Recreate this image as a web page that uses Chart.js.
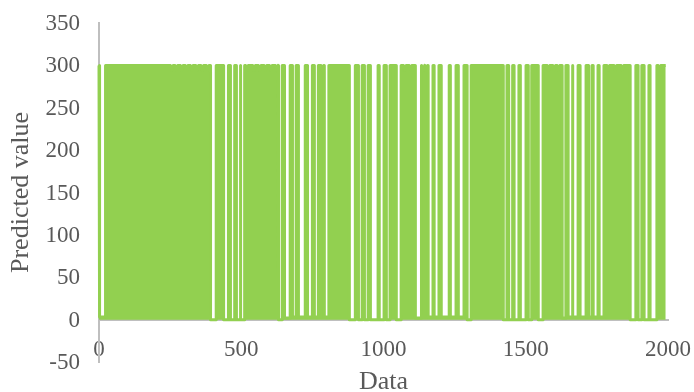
<!DOCTYPE html>
<html>
<head>
<meta charset="utf-8">
<style>
  body { margin: 0; background: #fff; }
  canvas { display: block; }
</style>
<script src="https://cdn.jsdelivr.net/npm/chart.js@4"></script>
</head>
<body>
<canvas id="chart" width="694" height="392"></canvas>
<script>
// Values: the series sits at 300 and drops to a floor inside each gap
const topValue = 300;
const gapStart = [2, 392, 438, 462, 483, 498, 631, 652, 680, 701, 733, 757, 792, 880, 912, 933, 954, 985, 1010, 1045, 1112, 1157, 1178, 1203, 1235, 1263, 1294, 1421, 1440, 1459, 1481, 1509, 1544, 1628, 1649, 1666, 1691, 1721, 1737, 1758, 1867, 1895, 1916, 1937];
const gapEnd = [23, 412, 455, 477, 497, 512, 644, 672, 693, 725, 750, 771, 808, 901, 925, 946, 981, 1002, 1023, 1062, 1132, 1174, 1195, 1231, 1255, 1283, 1308, 1434, 1454, 1476, 1501, 1521, 1561, 1641, 1663, 1684, 1712, 1733, 1754, 1775, 1887, 1908, 1933, 1961];
const gapFloor = [3, 0, 0, 0, 0, 0, 0, 2, 3, 3, 3, 3, 3, 0, 0, 0, 0, 0, 0, 0, 2, 3, 3, 3, 3, 3, 0, 0, 0, 0, 0, 0, 0, 2, 3, 3, 3, 3, 3, 3, 0, 0, 0, 0];
// Small dents along the top edge
const dentX = [256, 272, 291, 308, 326, 345, 363, 382, 520, 545, 565, 585, 604, 625, 785, 925, 1040, 1075, 1095, 1140, 1150, 1210, 1260, 1290, 1445, 1525, 1580, 1600, 1615, 1690, 1790, 1815, 1840, 1920, 1970];
const dentY = [294, 294, 294, 294, 294, 294, 294, 294, 294, 294, 294, 294, 294, 294, 294, 294, 294, 294, 294, 294, 294, 294, 294, 294, 294, 294, 294, 294, 294, 294, 294, 294, 294, 294, 294];
const lastX = [0, 1992];
const xTicks = [0, 500, 1000, 1500, 2000];
const yTicks = [-50, 0, 50, 100, 150, 200, 250, 300, 350];

// Build the point list for the line
const points = [{ x: lastX[0], y: topValue }];
gapStart.forEach((start, i) => {
  points.push({ x: start, y: topValue }, { x: start, y: gapFloor[i] }, { x: gapEnd[i], y: gapFloor[i] }, { x: gapEnd[i], y: topValue });
});
dentX.forEach((x, i) => {
  if (!gapStart.some((start, j) => x > start - 6 && x < gapEnd[j] + 6)) {
    points.push({ x: x - 5, y: topValue }, { x, y: dentY[i] }, { x: x + 5, y: topValue });
  }
});
points.push({ x: lastX[1], y: topValue });
points.sort((a, b) => a.x - b.x);

const grey = '#bfbfbf';
const textColor = '#595959';
const fontFamily = '"Liberation Serif", serif';

new Chart(document.getElementById('chart'), {
  type: 'scatter',
  data: {
    datasets: [{
      data: points,
      showLine: true,
      borderColor: '#92d050',
      backgroundColor: '#92d050',
      borderWidth: 3,
      borderJoinStyle: 'round',
      pointRadius: 0,
      fill: 'origin',
      tension: 0,
      clip: false
    }]
  },
  options: {
    responsive: false,
    animation: false,
    layout: { padding: { top: 23, right: 26, bottom: 30, left: 6 } },
    plugins: { legend: { display: false }, tooltip: { enabled: false } },
    scales: {
      x: {
        type: 'linear',
        position: { y: 0 },
        z: 1,
        min: 0,
        max: 2000,
        afterBuildTicks: axis => { axis.ticks = xTicks.map(value => ({ value })); },
        afterFit: axis => { axis.paddingLeft = 0; axis.paddingRight = 0; },
        grid: { display: false, drawTicks: false },
        border: { color: grey, width: 2 },
        ticks: { color: textColor, font: { family: fontFamily, size: 23 }, padding: 17, maxRotation: 0, autoSkip: false, callback: value => String(value) },
        title: { display: true, text: 'Data', color: textColor, font: { family: fontFamily, size: 26 }, padding: { top: -15, bottom: 0 } }
      },
      y: {
        min: -50,
        max: 350,
        afterBuildTicks: axis => { axis.ticks = yTicks.map(value => ({ value })); },
        afterFit: axis => { axis.width = 93; axis.paddingTop = 0; axis.paddingBottom = 0; },
        grid: { display: false, drawTicks: false },
        border: { color: grey, width: 2 },
        ticks: { color: textColor, font: { family: fontFamily, size: 23 }, padding: 19, labelOffset: 1, autoSkip: false, callback: value => String(value) },
        title: { display: true, text: 'Predicted value', color: textColor, font: { family: fontFamily, size: 26 }, padding: 0 }
      }
    }
  }
});
</script>
</body>
</html>
